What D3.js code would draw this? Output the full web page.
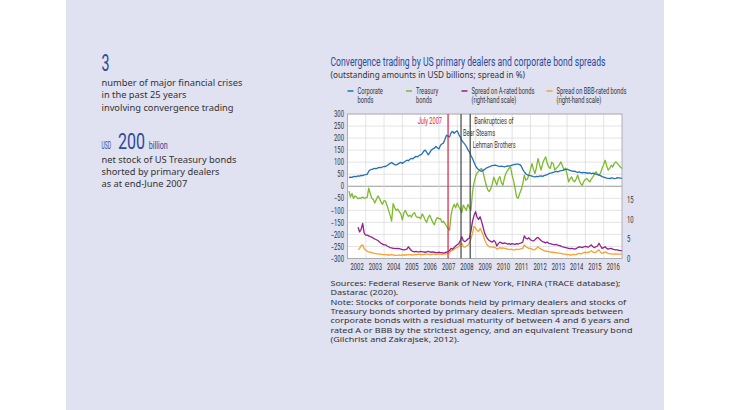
<!DOCTYPE html>
<html>
<head>
<meta charset="utf-8">
<script src="https://cdn.jsdelivr.net/npm/d3@7"></script>
<style>
  body { margin: 0; background: #fff; }
  text { fill: #333; }
</style>
</head>
<body>
<svg id="chart" width="730" height="410"></svg>
<script>
// Monthly series, Jan 2002 .. Dec 2016 (USD billions, left scale)
const corporate = [
  36, 38, 37, 40, 41, 40, 43, 42, 45, 44, 47, 48,
  50, 62, 68, 70, 72, 74, 73, 76, 78, 77, 80, 82,
  82, 86, 90, 95, 98, 94, 90, 88, 92, 96, 99, 95,
  100, 104, 108, 106, 112, 116, 114, 120, 124, 122, 128, 130,
  135, 145, 150, 142, 130, 140, 150, 155, 158, 165, 160, 155,
  170, 175, 180, 195, 212, 208, 205, 222, 228, 220, 226, 230,
  215, 205, 190, 182, 175, 165, 152, 142, 128, 115, 100, 85,
  75, 70, 65, 62, 66, 70, 75, 78, 80, 84, 86, 87,
  88, 86, 84, 82, 84, 82, 80, 83, 85, 84, 86, 88,
  90, 91, 92, 92, 90, 84, 70, 60, 52, 47, 45, 44,
  42, 40, 39, 41, 40, 42, 43, 41, 44, 46, 48, 52,
  54, 56, 58, 60, 62, 60, 63, 65, 66, 68, 70, 71,
  68, 66, 64, 62, 63, 60, 58, 60, 57, 56, 58, 56,
  55, 54, 56, 52, 54, 53, 50, 48, 46, 44, 40, 38,
  36, 34, 33, 32, 35, 34, 32, 33, 36, 35, 34, 33
];
const treasury = [
  -20, -45, -30, -50, -40, -45, -52, -48, -50, -45, -50, -48,
  -45, -8, -30, -50, -55, -70, -55, -40, -50, -65, -75, -60,
  -62, -80, -100, -120, -145, -72, -90, -100, -95, -105, -115, -140,
  -110, -100, -115, -125, -120, -128, -115, -110, -125, -130, -128, -135,
  -115, -125, -140, -150, -130, -120, -135, -150, -160, -140, -130, -135,
  -135, -150, -145, -155, -165, -175, -183, -120, -90, -75, -90, -70,
  -85, -95, -110, -78, -90, -100, -75, -88, -100, -25, 15, 40,
  55, 62, 70, 74, 60, 30, 5, -15, -22, -10, 10, 38,
  20, 5, 30, 40, 15, 5, 35, 55, 65, 75, 80, 45,
  20, -10, -45, -50, -30, -15, 10, 46, 25, 30, 46, 70,
  94, 70, 53, 80, 115, 90, 67, 95, 110, 122, 95, 80,
  74, 100, 94, 67, 75, 81, 90, 101, 85, 67, 75, 50,
  18, 30, 39, 25, 18, 30, 46, 25, 10, 4, 20, 28,
  32, 25, 18, 30, 39, 50, 60, 50, 46, 55, 74, 90,
  108, 85, 67, 75, 87, 80, 95, 101, 95, 87, 80, 74
];
// Monthly spreads, Jul 2002 .. Dec 2016 (%, right scale)
const spreadA = [
  8.0, 6.8, 7.5, 9.0, 6.5, 6.0,
  6.0, 5.8, 5.6, 5.5, 5.2, 5.0, 4.8, 4.6, 4.2, 3.9, 3.7, 3.5,
  3.5, 3.2, 3.0, 2.8, 2.7, 2.6, 2.6, 2.5, 2.6, 2.5, 2.4, 2.3,
  2.2, 2.3, 2.4, 3.0, 2.5, 2.0, 1.8, 1.7, 1.8, 1.7, 1.7, 1.8,
  1.7, 1.7, 1.6, 1.7, 1.8, 1.7, 1.6, 1.7, 1.6, 1.5, 1.5, 1.6,
  1.5, 1.5, 1.4, 1.5, 1.6, 1.8, 2.0, 2.6, 2.4, 2.8, 3.2, 3.5,
  3.8, 4.5, 5.6, 4.6, 4.3, 4.6, 5.0, 5.2, 7.0, 9.5, 11.0, 12.0,
  10.5, 10.0, 10.7, 9.5, 8.0, 6.5, 5.6, 5.0, 4.6, 4.4, 4.2, 4.6,
  4.2, 3.2, 3.8, 4.2, 4.0, 3.8, 4.0, 3.9, 3.7, 3.8, 3.6, 3.8,
  3.7, 3.6, 3.8, 3.7, 3.9, 4.0, 4.2, 5.8, 5.2, 5.0, 5.3, 4.8,
  4.6, 4.5, 4.8, 5.2, 5.4, 5.0, 4.6, 4.3, 4.2, 4.0, 4.2, 3.9,
  3.8, 3.7, 3.6, 3.5, 3.6, 3.4, 3.3, 3.2, 3.0, 2.9, 2.8, 2.7,
  2.6, 2.5, 2.6, 2.5, 2.4, 2.5, 2.8, 3.0, 2.9, 2.8, 3.0, 3.1,
  3.0, 2.9, 3.2, 3.5, 3.0, 2.8, 3.0, 3.2, 3.9, 3.2, 2.6, 2.8,
  3.0, 2.6, 2.4, 2.5, 2.6, 2.4, 2.3, 2.2, 2.2, 2.1, 2.0, 2.0
];
const spreadBBB = [
  2.2, 2.6, 3.3, 3.5, 2.5, 2.2,
  1.8, 1.7, 1.6, 1.5, 1.4, 1.3, 1.2, 1.2, 1.1, 1.1, 1.0, 1.0,
  1.0, 0.9, 0.9, 0.9, 1.0, 0.9, 0.8, 0.8, 0.8, 0.9, 0.8, 0.9,
  0.9, 0.9, 0.9, 1.0, 1.0, 0.9, 0.9, 1.0, 1.0, 1.0, 1.1, 1.0,
  1.0, 1.0, 1.1, 1.1, 1.1, 1.0, 1.0, 1.1, 1.1, 1.0, 1.1, 1.1,
  1.1, 1.0, 1.1, 1.1, 1.2, 1.3, 1.5, 2.0, 2.1, 2.4, 2.6, 2.9,
  3.0, 3.6, 3.9, 3.0, 2.9, 3.2, 3.4, 4.0, 5.0, 6.5, 8.2, 7.8,
  7.2, 6.9, 7.7, 7.0, 6.0, 4.8, 3.9, 3.3, 3.0, 3.0, 2.9, 3.0,
  2.8, 2.4, 2.6, 2.8, 2.6, 2.7, 2.6, 2.6, 2.4, 2.3, 2.4, 2.3,
  2.2, 2.2, 2.4, 2.3, 2.4, 2.5, 2.6, 3.5, 3.0, 2.8, 2.6, 2.6,
  2.4, 2.2, 2.3, 2.6, 3.0, 2.6, 2.4, 2.2, 2.0, 1.8, 1.9, 1.7,
  1.7, 1.6, 1.6, 1.5, 1.5, 1.4, 1.4, 1.3, 1.2, 1.1, 1.1, 1.0,
  1.0, 0.9, 0.9, 1.0, 1.0, 1.0, 1.2, 1.3, 1.2, 1.3, 1.5, 1.6,
  1.5, 1.6, 1.7, 2.0, 1.7, 1.5, 1.6, 2.0, 2.2, 1.6, 1.3, 1.5,
  1.7, 1.5, 1.3, 1.2, 1.2, 1.1, 1.1, 1.2, 1.1, 1.1, 1.1, 1.1
];

const years = [2002, 2003, 2004, 2005, 2006, 2007, 2008, 2009, 2010, 2011, 2012, 2013, 2014, 2015, 2016];
const leftTicks = [-300, -250, -200, -150, -100, -50, 0, 50, 100, 150, 200, 250, 300];
const rightTicks = [0, 5, 10, 15];

const legendItems = [
  { lines: ['Corporate', 'bonds'], color: '#2272b4' },
  { lines: ['Treasury', 'bonds'], color: '#7dbb2c' },
  { lines: ['Spread on A-rated bonds', '(right-hand scale)'], color: '#93218f' },
  { lines: ['Spread on BBB-rated bonds', '(right-hand scale)'], color: '#f7a231' }
];

const events = [
  { date: new Date(2007, 6, 1), color: '#d8203f' },
  { date: new Date(2008, 2, 16), color: '#444' },
  { date: new Date(2008, 8, 15), color: '#444' }
];

const sources = [
  'Sources: Federal Reserve Bank of New York, FINRA (TRACE database);',
  'Dastarac (2020).',
  'Note: Stocks of corporate bonds held by primary dealers and stocks of',
  'Treasury bonds shorted by primary dealers. Median spreads between',
  'corporate bonds with a residual maturity of between 4 and 6 years and',
  'rated A or BBB by the strictest agency, and an equivalent Treasury bond',
  '(Gilchrist and Zakrajsek, 2012).'
];

// Condensed look: no narrow face is installed, so Roboto is squeezed horizontally.
const NARROW = 'Roboto, "DejaVu Sans", sans-serif';
const BODY = '"Noto Sans", "DejaVu Sans", sans-serif';
const BLUE = '#2b4a9c';

const svg = d3.select('#chart');

function measure(str, size, family = NARROW) {
  const t = svg.append('text').attr('font-family', family).attr('font-size', size).text(str);
  const w = t.node().getComputedTextLength();
  t.remove();
  return w;
}
function squeeze(sel, factor) {
  sel.each(function () {
    const w = this.getComputedTextLength();
    d3.select(this).attr('textLength', w * factor).attr('lengthAdjust', 'spacingAndGlyphs');
  });
}

// lavender panel
svg.append('rect').attr('x', 66).attr('y', 0).attr('width', 598).attr('height', 410).attr('fill', '#e0e1f1');

// ── left key figures ──
const side = svg.append('g');
// big blue figures: squeezed with a scale transform so their boxes stay true
const narrowBig = (x0, y0, size, str, width) => {
  const f = width / measure(str, size);
  side.append('text').attr('transform', `translate(${x0},${y0}) scale(${f},1)`)
    .attr('font-family', NARROW).attr('font-size', size).style('fill', BLUE).text(str);
};
narrowBig(101.5, 71.2, 24, '3', 8);
['number of major financial crises', 'in the past 25 years', 'involving convergence trading'].forEach((s, i) => {
  side.append('text').attr('x', 101.5).attr('y', 86.2 + i * 12.2).attr('font-family', BODY).attr('font-size', 9.3).text(s);
});
narrowBig(101.5, 148.5, 10, 'USD', 9.5);
narrowBig(118, 148.5, 22.5, '200', 27);
narrowBig(148.8, 148.5, 10, 'billion', 19);
['net stock of US Treasury bonds', 'shorted by primary dealers', 'as at end-June 2007'].forEach((s, i) => {
  side.append('text').attr('x', 101.5).attr('y', 163 + i * 12.2).attr('font-family', BODY).attr('font-size', 9.3).text(s);
});

// ── title, subtitle, legend ──
const title = svg.append('text').attr('x', 330.5).attr('y', 65.5).attr('font-family', NARROW).attr('font-size', 12)
  .style('fill', BLUE).text('Convergence trading by US primary dealers and corporate bond spreads');
squeeze(title, 275 / title.node().getComputedTextLength());
svg.append('text').attr('x', 330.5).attr('y', 78).attr('font-family', BODY).attr('font-size', 8.2)
  .text('(outstanding amounts in USD billions; spread in %)');

const legendFactor = 63 / measure('Spread on A-rated bonds', 8.3);
const legendX = [347.5, 406, 461.5, 546.5];
const legend = svg.selectAll('.lg').data(legendItems).enter().append('g')
  .attr('transform', (d, i) => `translate(${legendX[i]},0)`);
legend.append('line').attr('x1', 0).attr('x2', 6).attr('y1', 91).attr('y2', 91)
  .attr('stroke', d => d.color).attr('stroke-width', 1.5);
legend.each(function (d) {
  const t = d3.select(this).selectAll('text').data(d.lines).enter().append('text')
    .attr('x', 10).attr('y', (s, j) => 93.8 + j * 9)
    .attr('font-family', NARROW).attr('font-size', 8.3).text(s => s);
  squeeze(t, legendFactor);
});

// ── plot ──
const plot = { left: 347.5, right: 622, top: 114, bottom: 258.5 };
const x = d3.scaleTime().domain([new Date(2002, 0, 1), new Date(2017, 0, 1)]).range([plot.left, plot.right]);
const yL = d3.scaleLinear().domain([-300, 300]).range([plot.bottom, plot.top]);
const yR = d3.scaleLinear().domain([0, 37]).range([plot.bottom, plot.top]);

svg.append('rect').attr('x', plot.left).attr('y', plot.top)
  .attr('width', plot.right - plot.left).attr('height', plot.bottom - plot.top).attr('fill', '#fff');

const grid = svg.append('g');
grid.selectAll('.hg').data(leftTicks).enter().append('line')
  .attr('x1', plot.left).attr('x2', plot.right)
  .attr('y1', d => yL(d)).attr('y2', d => yL(d))
  .attr('stroke', d => d === 0 ? '#9a9a9a' : '#d9d9d9').attr('stroke-width', d => d === 0 ? 1 : 0.7);
grid.selectAll('.vg').data(years.slice(1)).enter().append('line')
  .attr('x1', d => x(new Date(d, 0, 1))).attr('x2', d => x(new Date(d, 0, 1)))
  .attr('y1', plot.top).attr('y2', plot.bottom)
  .attr('stroke', '#d9d9d9').attr('stroke-width', 0.7);

// axes
const axisFactor = 13.3 / measure('2002', 8.4);
const axisL = svg.append('g').attr('transform', `translate(${plot.left},0)`)
  .call(d3.axisLeft(yL).tickValues(leftTicks).tickSize(0).tickPadding(3.5));
const axisR = svg.append('g').attr('transform', `translate(${plot.right},0)`)
  .call(d3.axisRight(yR).tickValues(rightTicks).tickSize(0).tickPadding(5));
const axisB = svg.append('g').attr('transform', `translate(0,${plot.bottom})`)
  .call(d3.axisBottom(x).tickValues(years.map(yr => new Date(yr, 6, 1))).tickFormat(d3.timeFormat('%Y')).tickSize(0).tickPadding(6));
[axisL, axisR, axisB].forEach(a => {
  a.select('.domain').remove();
  const t = a.selectAll('text').attr('font-family', NARROW).attr('font-size', 8.4).style('fill', '#333');
  squeeze(t, axisFactor);
});

svg.append('rect').attr('x', plot.left).attr('y', plot.top)
  .attr('width', plot.right - plot.left).attr('height', plot.bottom - plot.top)
  .attr('fill', 'none').attr('stroke', '#a0a0a0').attr('stroke-width', 0.8);

// series
const monthEnd = (start, i) => new Date(2002, start + i + 1, 0);
const lineL = d3.line().x(d => x(d.date)).y(d => yL(d.v));
const lineR = d3.line().x(d => x(d.date)).y(d => yR(d.v));
const series = [
  { values: treasury, start: 0, line: lineL, color: legendItems[1].color },
  { values: corporate, start: 0, line: lineL, color: legendItems[0].color },
  { values: spreadBBB, start: 6, line: lineR, color: legendItems[3].color },
  { values: spreadA, start: 6, line: lineR, color: legendItems[2].color }
];
series.forEach(s => {
  const pts = s.values.map((v, i) => ({ date: monthEnd(s.start, i), v }));
  svg.append('path').datum(pts).attr('d', s.line)
    .attr('fill', 'none').attr('stroke', s.color).attr('stroke-width', 1.3).attr('stroke-linejoin', 'round');
});

// event markers
svg.selectAll('.ev').data(events).enter().append('line')
  .attr('x1', d => x(d.date)).attr('x2', d => x(d.date))
  .attr('y1', plot.top).attr('y2', plot.bottom)
  .attr('stroke', d => d.color).attr('stroke-width', 1.2);

const noteFactor = 43 / measure('Lehman Brothers', 8.5);
const xRed = x(events[0].date), xBear = x(events[1].date), xLehman = x(events[2].date);
const notes = [
  { x: xRed - 6, y: 124, anchor: 'end', color: events[0].color, s: 'July 2007' },
  { x: xLehman + 4, y: 123.5, anchor: 'start', color: '#333', s: 'Bankruptcies of' },
  { x: xBear + 2, y: 136, anchor: 'start', color: '#333', s: 'Bear Stearns' },
  { x: xLehman + 2.5, y: 147.5, anchor: 'start', color: '#333', s: 'Lehman Brothers' }
];
const noteText = svg.selectAll('.note').data(notes).enter().append('text')
  .attr('x', d => d.x).attr('y', d => d.y).attr('text-anchor', d => d.anchor)
  .attr('font-family', NARROW).attr('font-size', 8.5).style('fill', d => d.color).text(d => d.s);
squeeze(noteText, noteFactor);

// sources and note: smaller face stretched to the reference line width
const srcFactor = 290 / measure(sources[0], 7.8, BODY);
const src = svg.selectAll('.src').data(sources).enter().append('text')
  .attr('x', 330.5).attr('y', (d, i) => 286 + i * 9.3)
  .attr('font-family', BODY).attr('font-size', 7.8).text(d => d);
squeeze(src, srcFactor);
</script>
</body>
</html>
